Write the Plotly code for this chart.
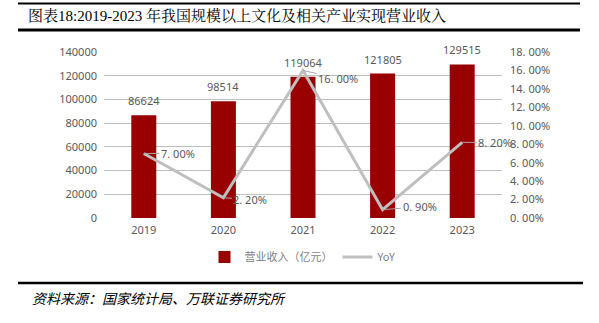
import plotly.graph_objects as go

# Data
years = [2019, 2020, 2021, 2022, 2023]
revenue = [86624, 98514, 119064, 121805, 129515]   # 营业收入（亿元）
yoy = [7.00, 2.20, 16.00, 0.90, 8.20]              # YoY, %
yoy_label_offsets = [(34, 0), (27, 2), (35, 8), (37, -3), (33, 0)]  # label offsets (px)

W, H = 599, 323
PL, PR, PT, PB = 104, 502, 52, 218  # plot area in pixels


def px_x(p):
    return (p - PL) / (PR - PL)


def px_y(p):
    return (PB - p) / (PB - PT)


def pct(v):
    return f"{v:.2f}%".replace(".", ". ")


RED = "#990000"
GREY_LINE = "#BFBFBF"
TXT = "#595959"
FONT = "Noto Sans, Noto Sans CJK SC, sans-serif"

fig = go.Figure()
fig.add_trace(go.Bar(
    x=years, y=revenue, name="营业收入（亿元）",
    marker=dict(color=RED, line=dict(width=0)), width=0.314, yaxis="y",
))
fig.add_trace(go.Scatter(
    x=years, y=yoy, name="YoY", mode="lines",
    line=dict(color=GREY_LINE, width=3), yaxis="y2", cliponaxis=False,
))

ann = []
for yr, v in zip(years, revenue):
    ann.append(dict(x=yr, y=v, xref="x", yref="y", text=str(v), showarrow=False,
                    yanchor="bottom", yshift=5, font=dict(size=11, color=TXT, family=FONT)))
for yr, v, (dx, dy) in zip(years, yoy, yoy_label_offsets):
    ann.append(dict(x=yr, y=v, xref="x", yref="y2", text=pct(v), showarrow=True,
                    arrowhead=0, arrowwidth=1, arrowcolor="#A6A6A6", ax=dx, ay=dy,
                    standoff=0, startstandoff=0,
                    font=dict(size=11, color=TXT, family=FONT)))
# source note
ann.append(dict(x=px_x(30), y=px_y(298), xref="paper", yref="paper", xanchor="left",
                yanchor="middle", showarrow=False, text="资料来源：国家统计局、万联证券研究所",
                font=dict(size=14, color="#000000",
                          family="Noto Sans CJK SC, sans-serif", style="italic")))

shapes = [
    dict(type="line", xref="paper", yref="paper", x0=px_x(18), x1=px_x(580),
         y0=px_y(3.5), y1=px_y(3.5), line=dict(color="#000000", width=2)),
    dict(type="line", xref="paper", yref="paper", x0=px_x(18), x1=px_x(580),
         y0=px_y(30), y1=px_y(30), line=dict(color="#000000", width=3)),
    dict(type="line", xref="paper", yref="paper", x0=px_x(18), x1=px_x(583),
         y0=px_y(283), y1=px_y(283), line=dict(color="#000000", width=2.5)),
]

fig.update_layout(
    width=W, height=H,
    margin=dict(l=PL, r=W - PR, t=PT, b=H - PB),
    paper_bgcolor="white", plot_bgcolor="white",
    title=dict(text="图表18:2019-2023 年我国规模以上文化及相关产业实现营业收入",
               xref="container", yref="container", x=28 / W, xanchor="left",
               y=1 - 16 / H, yanchor="middle",
               font=dict(size=15, color="#000000",
                         family="Liberation Serif, Noto Serif CJK SC, Noto Sans CJK SC, serif")),
    xaxis=dict(type="linear", range=[years[0] - 0.5, years[-1] + 0.5], tickvals=years,
               ticktext=[str(y) for y in years], showgrid=False, showline=False, zeroline=False,
               ticks="", tickfont=dict(size=11, color=TXT, family=FONT), ticklabelstandoff=4),
    yaxis=dict(range=[0, 140000], dtick=20000, showgrid=True, gridcolor=GREY_LINE, gridwidth=1,
               zeroline=False, showline=False, ticks="", tickformat="d",
               tickfont=dict(size=11, color=TXT, family=FONT), ticklabelstandoff=6),
    yaxis2=dict(range=[0, 18], overlaying="y", side="right", showgrid=False, zeroline=False,
                tickvals=[i * 2 for i in range(10)], ticktext=[pct(i * 2) for i in range(10)],
                tickfont=dict(size=11, color=TXT, family=FONT), ticklabelstandoff=7, ticks=""),
    legend=dict(orientation="h", x=0.5, xanchor="center", y=px_y(257), yanchor="middle",
                font=dict(size=11, color="#7F7F7F", family="Noto Sans CJK SC, sans-serif"),
                bgcolor="rgba(0,0,0,0)"),
    annotations=ann, shapes=shapes,
)

fig.write_html("out.html")
